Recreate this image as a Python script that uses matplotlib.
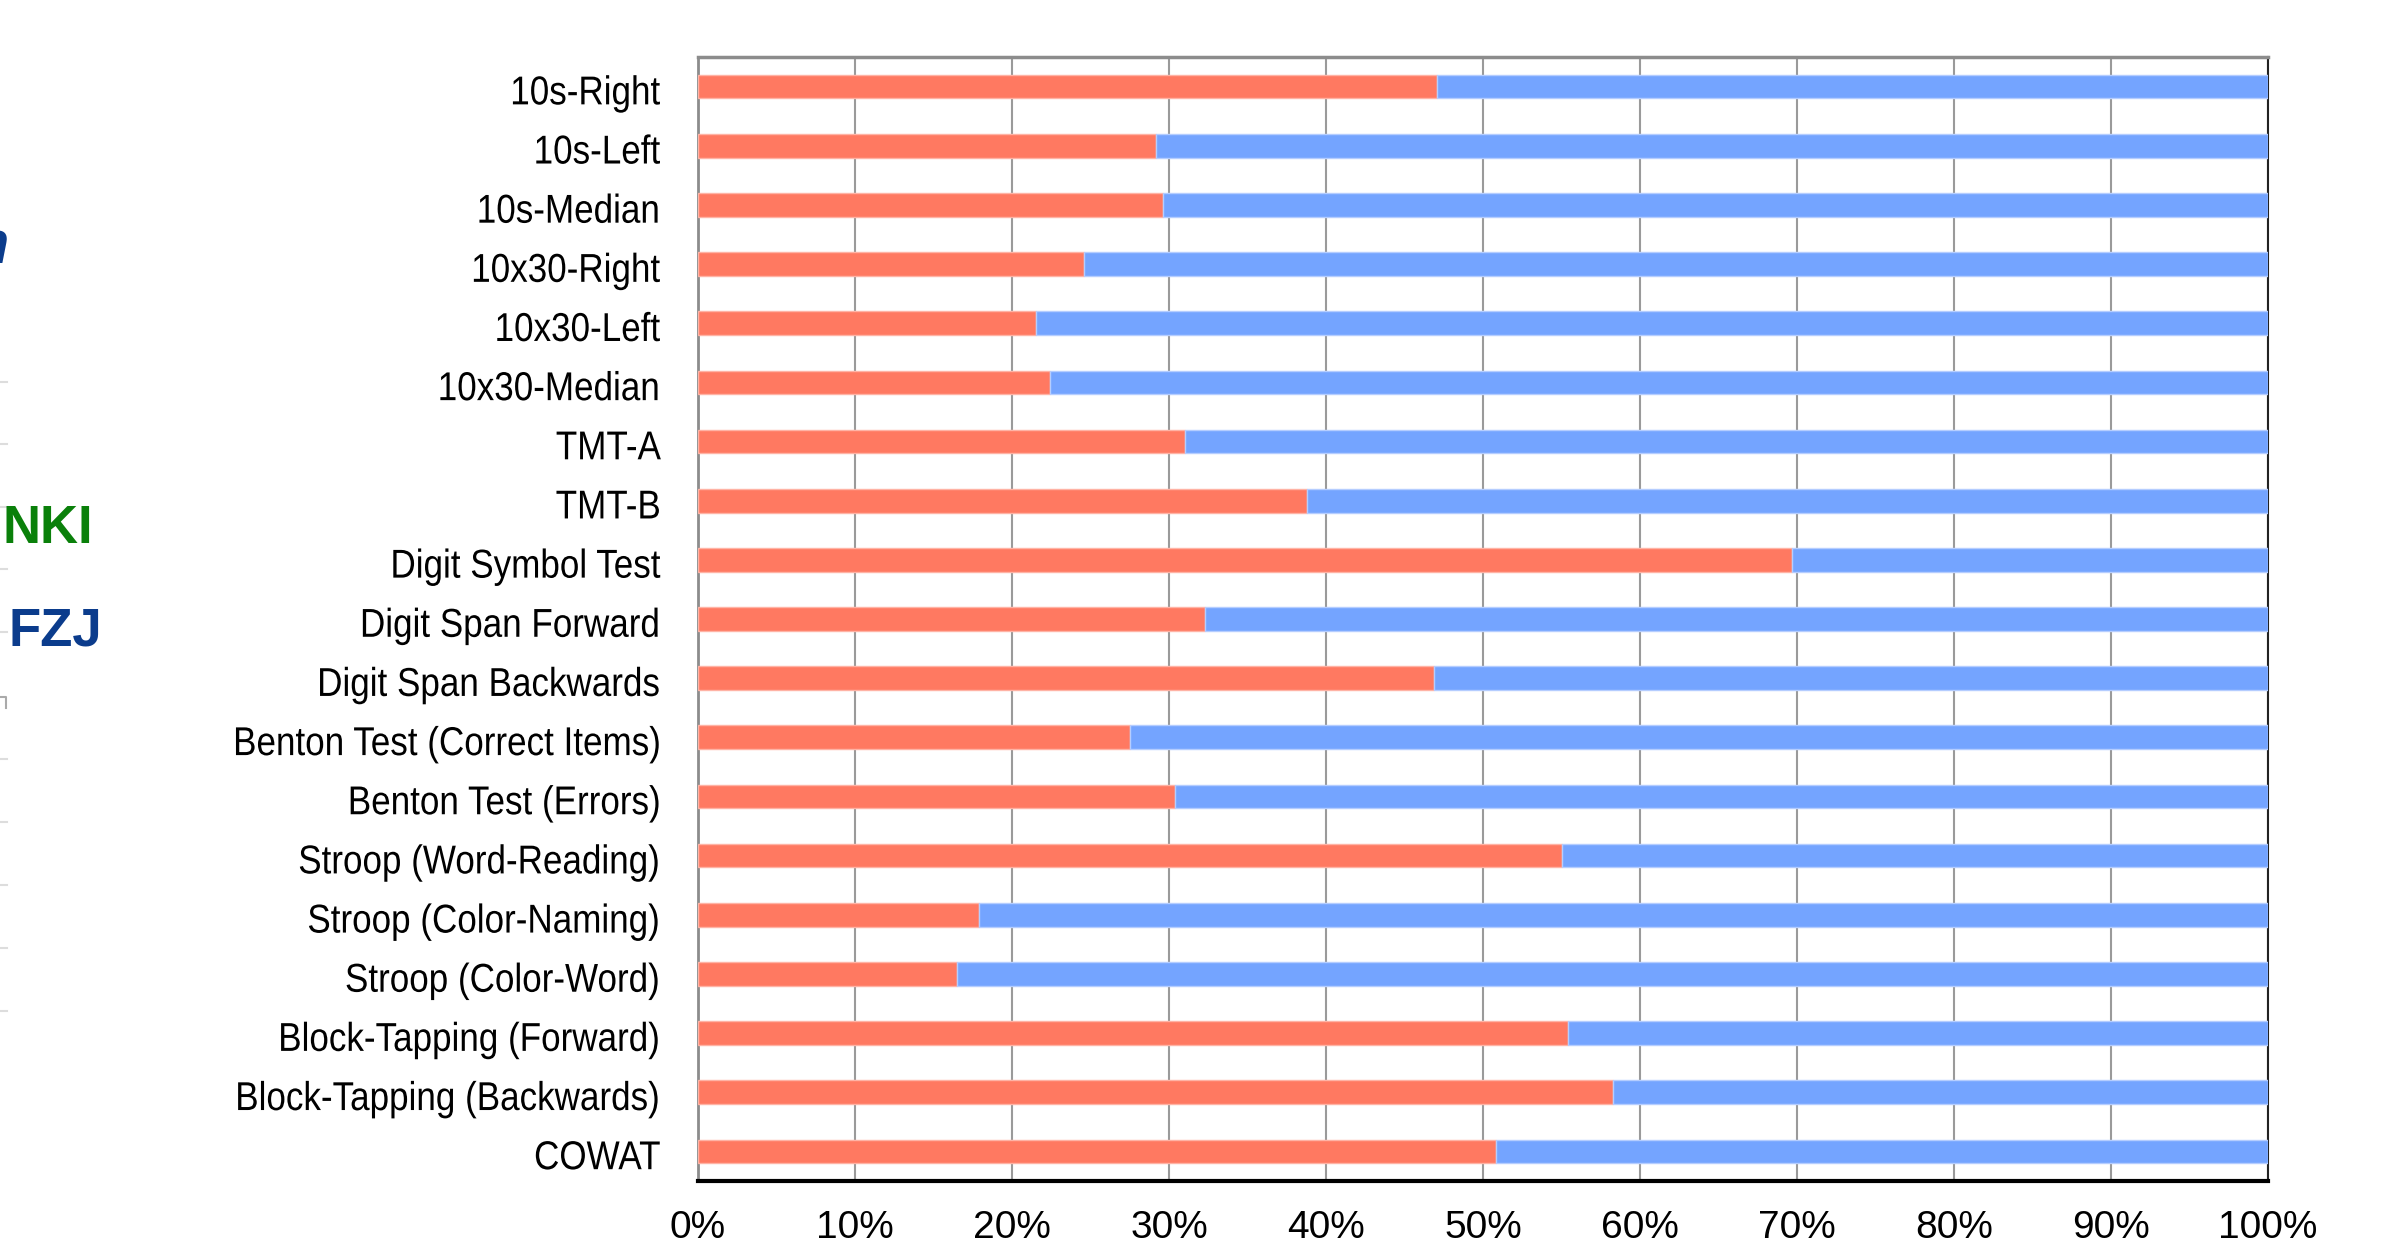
import matplotlib
matplotlib.use("Agg")
import matplotlib.pyplot as plt
from matplotlib.patheffects import AbstractPathEffect
from matplotlib.ticker import PercentFormatter
from matplotlib.transforms import Affine2D, ScaledTranslation
import numpy as np

# share of each test in the two groups, top to bottom
tests = [
    "10s-Right", "10s-Left", "10s-Median", "10x30-Right", "10x30-Left",
    "10x30-Median", "TMT-A", "TMT-B", "Digit Symbol Test",
    "Digit Span Forward", "Digit Span Backwards",
    "Benton Test (Correct Items)", "Benton Test (Errors)",
    "Stroop (Word-Reading)", "Stroop (Color-Naming)", "Stroop (Color-Word)",
    "Block-Tapping (Forward)", "Block-Tapping (Backwards)", "COWAT",
]
share_red = [47.1, 29.2, 29.6, 24.6, 21.5, 22.4, 31.0, 38.8, 69.7,
             32.3, 46.9, 27.5, 30.4, 55.0, 17.9, 16.5, 55.4, 58.3, 50.8]
share_blue = [100 - v for v in share_red]
xticks = list(range(0, 101, 10))

RED = "#ff7961"
BLUE = "#74a4ff"


class Squeeze(AbstractPathEffect):
    """Narrow a text horizontally, keeping its right edge in place."""

    def __init__(self, sx):
        super().__init__()
        self.sx = sx

    def draw_path(self, renderer, gc, tpath, affine, rgbFace=None):
        x1 = tpath.get_extents(affine).x1
        aff = affine + Affine2D().translate(-x1, 0).scale(self.sx, 1).translate(x1, 0)
        renderer.draw_path(gc, tpath, aff, rgbFace)


fig = plt.figure(figsize=(23.95, 12.45), dpi=100)
ax = fig.add_axes([698 / 2395, 1 - 1181 / 1245, 1570 / 2395, 1124 / 1245])

y = np.arange(len(tests))
ax.barh(y, share_red, height=0.4, color=RED, edgecolor="#ffb3a5", linewidth=1, zorder=3)
ax.barh(y, share_blue, left=share_red, height=0.4, color=BLUE, edgecolor="#b5cdff",
        linewidth=1, zorder=3)

ax.set_xlim(0, 100)
ax.set_ylim(len(tests) - 0.5, -0.5)
ax.set_xticks(xticks)
ax.xaxis.set_major_formatter(PercentFormatter(decimals=0))
ax.set_yticks(y)
ax.set_yticklabels(tests)
ax.grid(axis="x", color="#9a9a9a", linewidth=1.5, zorder=0)
ax.set_axisbelow(True)

ax.tick_params(axis="y", length=0, pad=27, labelsize=29)
ax.tick_params(axis="x", length=0, pad=21, labelsize=28)
shift_down = ScaledTranslation(0, -2 / 72, fig.dpi_scale_trans)
for lab in ax.get_yticklabels():
    lab.set_fontfamily("Liberation Sans")
    lab.set_path_effects([Squeeze(0.87)])
    lab.set_transform(lab.get_transform() + shift_down)
for lab in ax.get_xticklabels():
    lab.set_fontfamily("Liberation Sans")

ax.spines["top"].set_color("#8c8c8c")
ax.spines["top"].set_linewidth(2.5)
ax.spines["left"].set_color("#8c8c8c")
ax.spines["left"].set_linewidth(2)
ax.spines["right"].set_color("#222222")
ax.spines["right"].set_linewidth(1.5)
ax.spines["bottom"].set_color("black")
ax.spines["bottom"].set_linewidth(3)

# slide fragments at the left edge
fig.text(9 / 2395, 1 - 263 / 1245, "n", ha="right", va="baseline", fontsize=44,
         fontweight="bold", style="italic", color="#0b3c8c", family="Liberation Sans")
fig.text(3 / 2395, 1 - 543 / 1245, "NKI", ha="left", va="baseline", fontsize=38,
         fontweight="bold", color="#0a800a", family="Liberation Sans")
fig.text(9 / 2395, 1 - 645 / 1245, "FZJ", ha="left", va="baseline", fontsize=38,
         fontweight="bold", color="#0b3c8c", family="Liberation Sans")
for yy in [382, 444, 507, 569, 632, 759, 822, 885, 948, 1011]:
    fig.add_artist(plt.Line2D([0, 7 / 2395], [1 - yy / 1245] * 2, color="#dddddd",
                              linewidth=1.5, transform=fig.transFigure))
fig.add_artist(plt.Line2D([0, 6 / 2395, 6 / 2395], [1 - 697 / 1245, 1 - 697 / 1245, 1 - 708 / 1245],
                          color="#aaaaaa", linewidth=1.5, transform=fig.transFigure))

fig.savefig("out.png", dpi=100, facecolor="white")
